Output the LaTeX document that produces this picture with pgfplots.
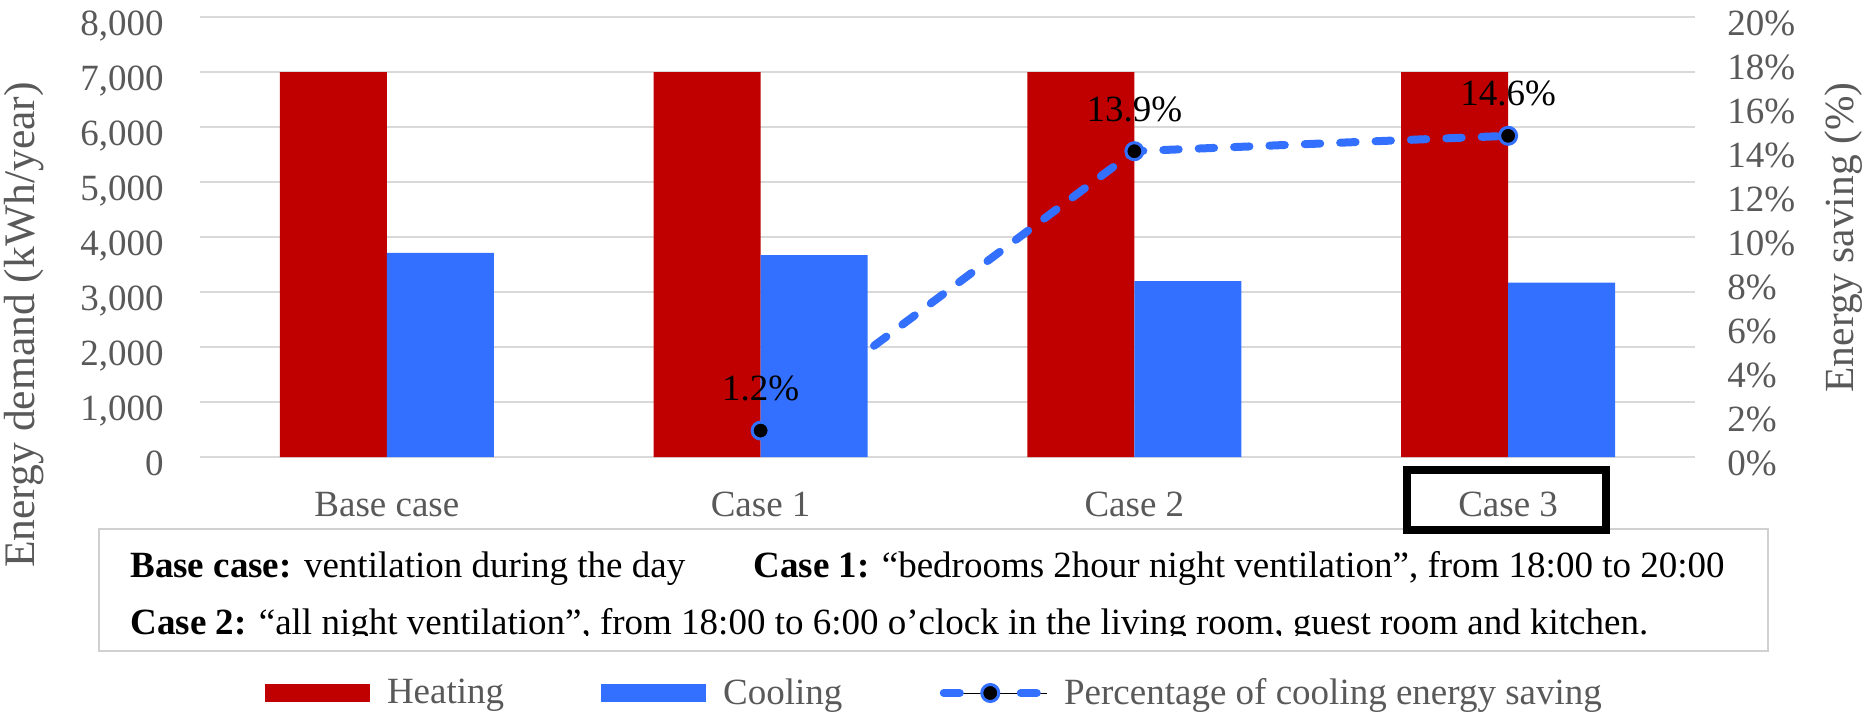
\documentclass[border=0pt]{standalone}
\usepackage{fontspec}
\setmainfont{Liberation Serif}
\usepackage{pgfplots}
\pgfplotsset{compat=1.18}
\definecolor{heat}{HTML}{C00000}
\definecolor{cool}{HTML}{3370FF}
\definecolor{lgray}{HTML}{595959}
\definecolor{ggray}{HTML}{D9D9D9}
\definecolor{bgray}{HTML}{D0D0D0}
\newcommand{\fs}{\fontsize{18.5}{22}\selectfont}
\begin{document}
\begin{tikzpicture}
\useasboundingbox (0,0) rectangle (932.5pt,-358pt);
\begin{axis}[
  scale only axis, width=747.5pt, height=220pt,
  at={(100pt,-228.5pt)}, anchor=south west,
  xmin=-0.5, xmax=3.5, ymin=0, ymax=8000,
  ybar=0pt, bar width=53.5pt,
  xtick={0,1,2,3}, xticklabels={Base case,Case 1,Case 2,Case 3},
  ytick={0,1000,...,8000},
  scaled y ticks=false,
  /pgf/number format/1000 sep={,},
  /pgf/number format/assume math mode=true,
  ymajorgrids, major grid style={draw=ggray, line width=1.2pt},
  axis line style={draw=none}, major tick length=0pt,
  tick label style={font=\fs, text=lgray},
  xticklabel style={anchor=base, yshift=-29.8pt, inner sep=0pt},
  yticklabel style={anchor=base east, xshift=-18pt, yshift=-9.25pt, inner sep=0pt},
  legend columns=3,
  legend cell align=left,
  legend style={draw=none, fill=none, inner sep=0pt, outer sep=0pt,
    at={(0.04348,-0.53636)}, anchor=west,
    font=\fs, text=lgray,
    nodes={inner sep=0pt},
    column sep=8.5pt,
    /tikz/every even column/.append style={column sep=48.5pt}},
]
\addplot[fill=heat, draw=none,
  legend image code/.code={\fill[heat] (0pt,-4.5pt) rectangle (52.5pt,4.5pt);}]
  coordinates {(0,7000) (1,7000) (2,7000) (3,7000)};
\addlegendentry{Heating}
\addplot[fill=cool, draw=none,
  legend image code/.code={\fill[cool] (0pt,-4.5pt) rectangle (52.5pt,4.5pt);}]
  coordinates {(0,3710) (1,3670) (2,3200) (3,3170)};
\addlegendentry{Cooling}
\addlegendimage{legend image code/.code={
  \path (0pt,0pt) -- (53.5pt,0pt);
  \draw[cool, line width=4pt, line cap=round] (2pt,0pt)--(10pt,0pt) (40.5pt,0pt)--(48.5pt,0pt);
  \draw[fill=black, draw=cool, line width=1.5pt] (25.25pt,0pt) circle (4.25pt);}}
\addlegendentry{Percentage of cooling energy saving}
\end{axis}
\begin{axis}[
  scale only axis, width=747.5pt, height=220pt,
  at={(100pt,-228.5pt)}, anchor=south west,
  xmin=-0.5, xmax=3.5, ymin=0, ymax=20,
  axis x line=none, axis y line*=right,
  axis line style={draw=none}, major tick length=0pt,
  ytick={0,2,...,20},
  yticklabel={\pgfmathprintnumber{\tick}\%},
  /pgf/number format/assume math mode=true,
  tick label style={font=\fs, text=lgray},
  yticklabel style={anchor=base west, xshift=16pt, yshift=-9.25pt, inner sep=0pt},
  clip=false,
]
\addplot[cool, line width=4pt, line cap=round, dash pattern=on 7.7pt off 10pt,
  mark=*, mark size=4.25pt,
  mark options={solid, fill=black, draw=cool, line width=1.5pt},
  point meta=y,
  nodes near coords={\pgfmathprintnumber[fixed,fixed zerofill,precision=1]{\pgfplotspointmeta}\%},
  nodes near coords style={anchor=center, yshift=21pt, text=black, font=\fs, inner sep=0pt}]
  coordinates {(1,1.2) (2,13.9) (3,14.6)};
\end{axis}
% annotation text box
\draw[draw=bgray, line width=0.75pt] (49.5pt,-264.5pt) rectangle (884pt,-325.5pt);
\node[anchor=base west, inner sep=0pt, font=\fs] at (65pt,-289pt) {\textbf{Base case:} ventilation during the day};
\node[anchor=base west, inner sep=0pt, font=\fs] at (376.5pt,-289pt) {\textbf{Case 1:} “bedrooms 2hour night ventilation”, from 18:00 to 20:00};
\begin{scope}
\clip (49.5pt,-264.5pt) rectangle (884pt,-318pt);
\node[anchor=base west, inner sep=0pt, font=\fs] at (65pt,-317pt) {\textbf{Case 2:} “all night ventilation”, from 18:00 to 6:00 o’clock in the living room, guest room and kitchen.};
\end{scope}
% highlight box around Case 3
\draw[black, line width=4pt] (703.5pt,-235pt) rectangle (803pt,-265pt);
% axis titles
\node[rotate=90, inner sep=0pt, font=\fontsize{21.8}{26}\selectfont, text=lgray] at (12pt,-162.5pt) {Energy demand (kWh/year)};
\node[rotate=90, inner sep=0pt, font=\fontsize{20.7}{25}\selectfont, text=lgray] at (922pt,-118.75pt) {Energy saving (\%)};
\end{tikzpicture}
\end{document}
